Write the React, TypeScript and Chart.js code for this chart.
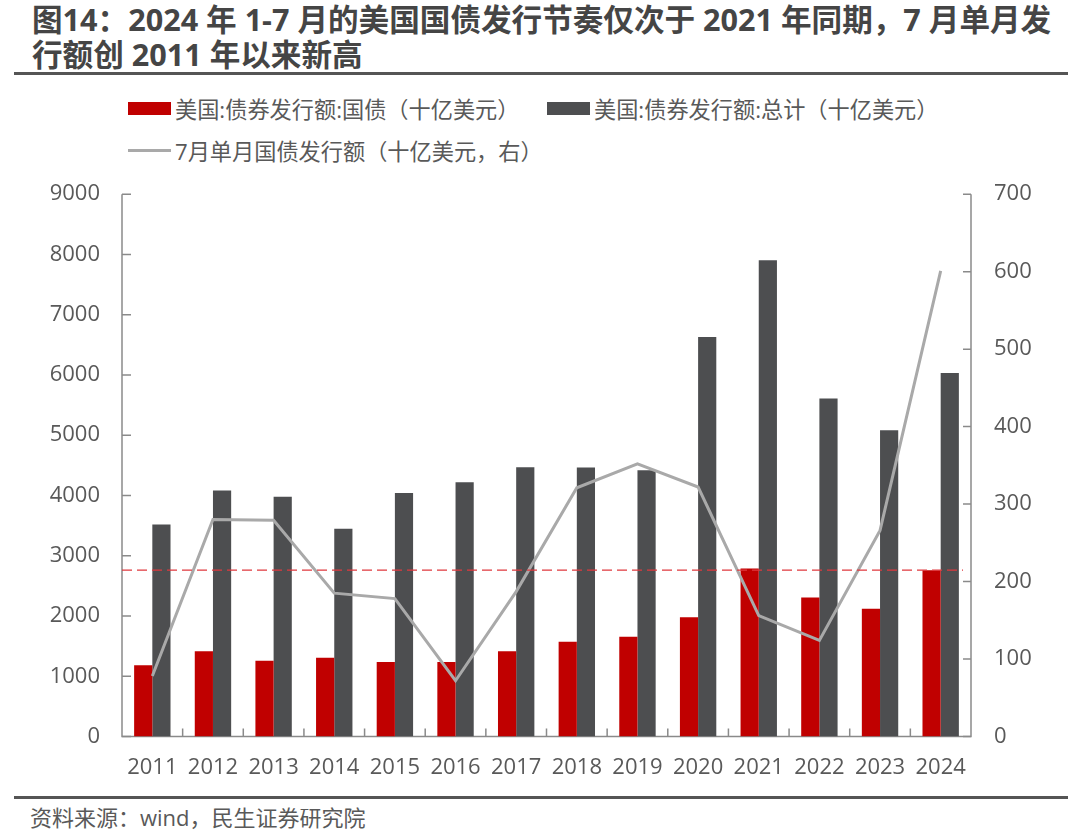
import React, { useEffect, useRef } from "react";
import { Chart, registerables } from "chart.js";

Chart.register(...registerables);

const categories = ["2011", "2012", "2013", "2014", "2015", "2016", "2017", "2018", "2019", "2020", "2021", "2022", "2023", "2024"];
const treasuryIssuance = [1181, 1413, 1257, 1307, 1235, 1235, 1413, 1572, 1655, 1977, 2789, 2308, 2119, 2761];
const totalIssuance = [3519, 4083, 3977, 3446, 4043, 4221, 4469, 4464, 4420, 6630, 7902, 5609, 5083, 6033];
const julyTreasury = [78, 280, 279, 185, 178, 72, 187, 321, 352, 322, 156, 124, 266, 601];
const referenceLevel = 2761;

const leftTicks = { min: 0, max: 9000, step: 1000 };
const rightTicks = { min: 0, max: 700, step: 100 };

const labelTreasury = "美国:债券发行额:国债（十亿美元）";
const labelTotal = "美国:债券发行额:总计（十亿美元）";
const labelJuly = "7月单月国债发行额（十亿美元，右）";
const titleLine1 = "图14：2024 年 1-7 月的美国国债发行节奏仅次于 2021 年同期，7 月单月发";
const titleLine2 = "行额创 2011 年以来新高";
const sourceText = "资料来源：wind，民生证券研究院";

const RED = "#c00000";
const DARK = "#4d4e50";
const LINE_GRAY = "#a9a9a9";
const AXIS = "#8a8a8a";
const TEXT = "#595959";
const FONT = '"Open Sans", "Noto Sans CJK SC", sans-serif';

const axesPlugin = {
  id: "customAxes",
  beforeDatasetsDraw(chart: any) {
    const { ctx, chartArea } = chart;
    const { left, right, top, bottom } = chartArea;
    const y = chart.scales.y;
    const y1 = chart.scales.y1;
    ctx.save();
    ctx.strokeStyle = AXIS;
    ctx.lineWidth = 1.5;
    ctx.beginPath();
    ctx.moveTo(left, top);
    ctx.lineTo(left, bottom);
    ctx.lineTo(right, bottom);
    ctx.lineTo(right, top);
    ctx.stroke();
    ctx.beginPath();
    y.ticks.forEach((t: any) => {
      const py = y.getPixelForValue(t.value);
      ctx.moveTo(left, py);
      ctx.lineTo(left + 9, py);
    });
    y1.ticks.forEach((t: any) => {
      const py = y1.getPixelForValue(t.value);
      ctx.moveTo(right - 8, py);
      ctx.lineTo(right, py);
    });
    const n = categories.length;
    const w = (right - left) / n;
    for (let i = 1; i < n; i++) {
      const px = left + i * w;
      ctx.moveTo(px, bottom);
      ctx.lineTo(px, bottom - 8);
    }
    ctx.stroke();
    ctx.restore();
  },
  afterDatasetsDraw(chart: any) {
    const { ctx, chartArea } = chart;
    const py = chart.scales.y.getPixelForValue(referenceLevel);
    ctx.save();
    ctx.strokeStyle = "#e0393e";
    ctx.lineWidth = 1.3;
    ctx.setLineDash([10, 5]);
    ctx.beginPath();
    ctx.moveTo(chartArea.left, py);
    ctx.lineTo(chartArea.right - 8, py);
    ctx.stroke();
    ctx.restore();
  },
};

export default function App() {
  const ref = useRef<HTMLCanvasElement | null>(null);

  useEffect(() => {
    if (!ref.current) return;
    const chart = new Chart(ref.current, {
      type: "bar",
      data: {
        labels: categories,
        datasets: [
          {
            type: "line",
            label: labelJuly,
            data: julyTreasury,
            yAxisID: "y1",
            borderColor: LINE_GRAY,
            borderWidth: 3,
            pointRadius: 0,
            tension: 0,
            order: 0,
          } as any,
          {
            label: labelTreasury,
            data: treasuryIssuance,
            backgroundColor: RED,
            yAxisID: "y",
            barPercentage: 1,
            categoryPercentage: 0.6,
            order: 1,
          },
          {
            label: labelTotal,
            data: totalIssuance,
            backgroundColor: DARK,
            yAxisID: "y",
            barPercentage: 1,
            categoryPercentage: 0.6,
            order: 2,
          },
        ],
      },
      options: {
        animation: false,
        responsive: false,
        maintainAspectRatio: false,
        layout: { padding: { top: 12, left: 0, right: 0, bottom: 0 } },
        plugins: { legend: { display: false }, tooltip: { enabled: false } },
        scales: {
          x: {
            grid: { display: false, drawTicks: false },
            border: { display: false },
            ticks: { color: TEXT, font: { family: FONT, size: 22 }, padding: 18, maxRotation: 0, autoSkip: false },
            afterFit: (s: any) => {
              s.height = 58.5;
            },
          },
          y: {
            position: "left",
            min: leftTicks.min,
            max: leftTicks.max,
            grid: { display: false, drawTicks: false },
            border: { display: false },
            ticks: {
              stepSize: leftTicks.step,
              color: TEXT,
              font: { family: FONT, size: 22 },
              padding: 22,
              callback: (v: any) => String(v),
            },
            afterFit: (s: any) => {
              s.width = 122;
            },
          },
          y1: {
            position: "right",
            min: rightTicks.min,
            max: rightTicks.max,
            grid: { display: false, drawTicks: false },
            border: { display: false },
            ticks: {
              stepSize: rightTicks.step,
              color: TEXT,
              font: { family: FONT, size: 22 },
              padding: 23,
              callback: (v: any) => String(v),
            },
            afterFit: (s: any) => {
              s.width = 109;
            },
          },
        },
      },
      plugins: [axesPlugin],
    });
    return () => chart.destroy();
  }, []);

  const legendText: React.CSSProperties = {
    fontFamily: FONT,
    fontSize: 22.2,
    color: TEXT,
    whiteSpace: "nowrap",
    marginLeft: 4,
  };
  const item = (left: number, centerY: number): React.CSSProperties => ({
    position: "absolute",
    left,
    top: centerY - 15,
    height: 30,
    display: "flex",
    alignItems: "center",
  });

  return (
    <div style={{ position: "absolute", left: 0, top: 0, width: 1080, height: 835, background: "#fff", overflow: "hidden" }}>
      <div
        style={{
          position: "absolute",
          left: 32,
          top: 2,
          fontFamily: FONT,
          fontWeight: 700,
          fontSize: 30.6,
          lineHeight: "35px",
          color: "#454545",
          whiteSpace: "nowrap",
        }}
      >
        <div>{titleLine1}</div>
        <div>{titleLine2}</div>
      </div>
      <div style={{ position: "absolute", left: 14, top: 72, width: 1054, height: 3, background: "#555" }} />

      <div style={item(128, 108)}>
        <div style={{ width: 43, height: 13, background: RED }} />
        <span style={legendText}>{labelTreasury}</span>
      </div>
      <div style={item(547, 108)}>
        <div style={{ width: 43, height: 13, background: DARK }} />
        <span style={legendText}>{labelTotal}</span>
      </div>
      <div style={item(128, 150)}>
        <div style={{ width: 43, height: 3, background: LINE_GRAY }} />
        <span style={legendText}>{labelJuly}</span>
      </div>

      <canvas ref={ref} width={1080} height={637} style={{ position: "absolute", left: 0, top: 158, width: 1080, height: 637 }} />

      <div style={{ position: "absolute", left: 14, top: 796, width: 1054, height: 2.5, background: "#555" }} />
      <div
        style={{
          position: "absolute",
          left: 30,
          top: 802,
          fontFamily: FONT,
          fontSize: 22,
          lineHeight: "30px",
          color: TEXT,
          whiteSpace: "nowrap",
        }}
      >
        {sourceText}
      </div>
    </div>
  );
}
